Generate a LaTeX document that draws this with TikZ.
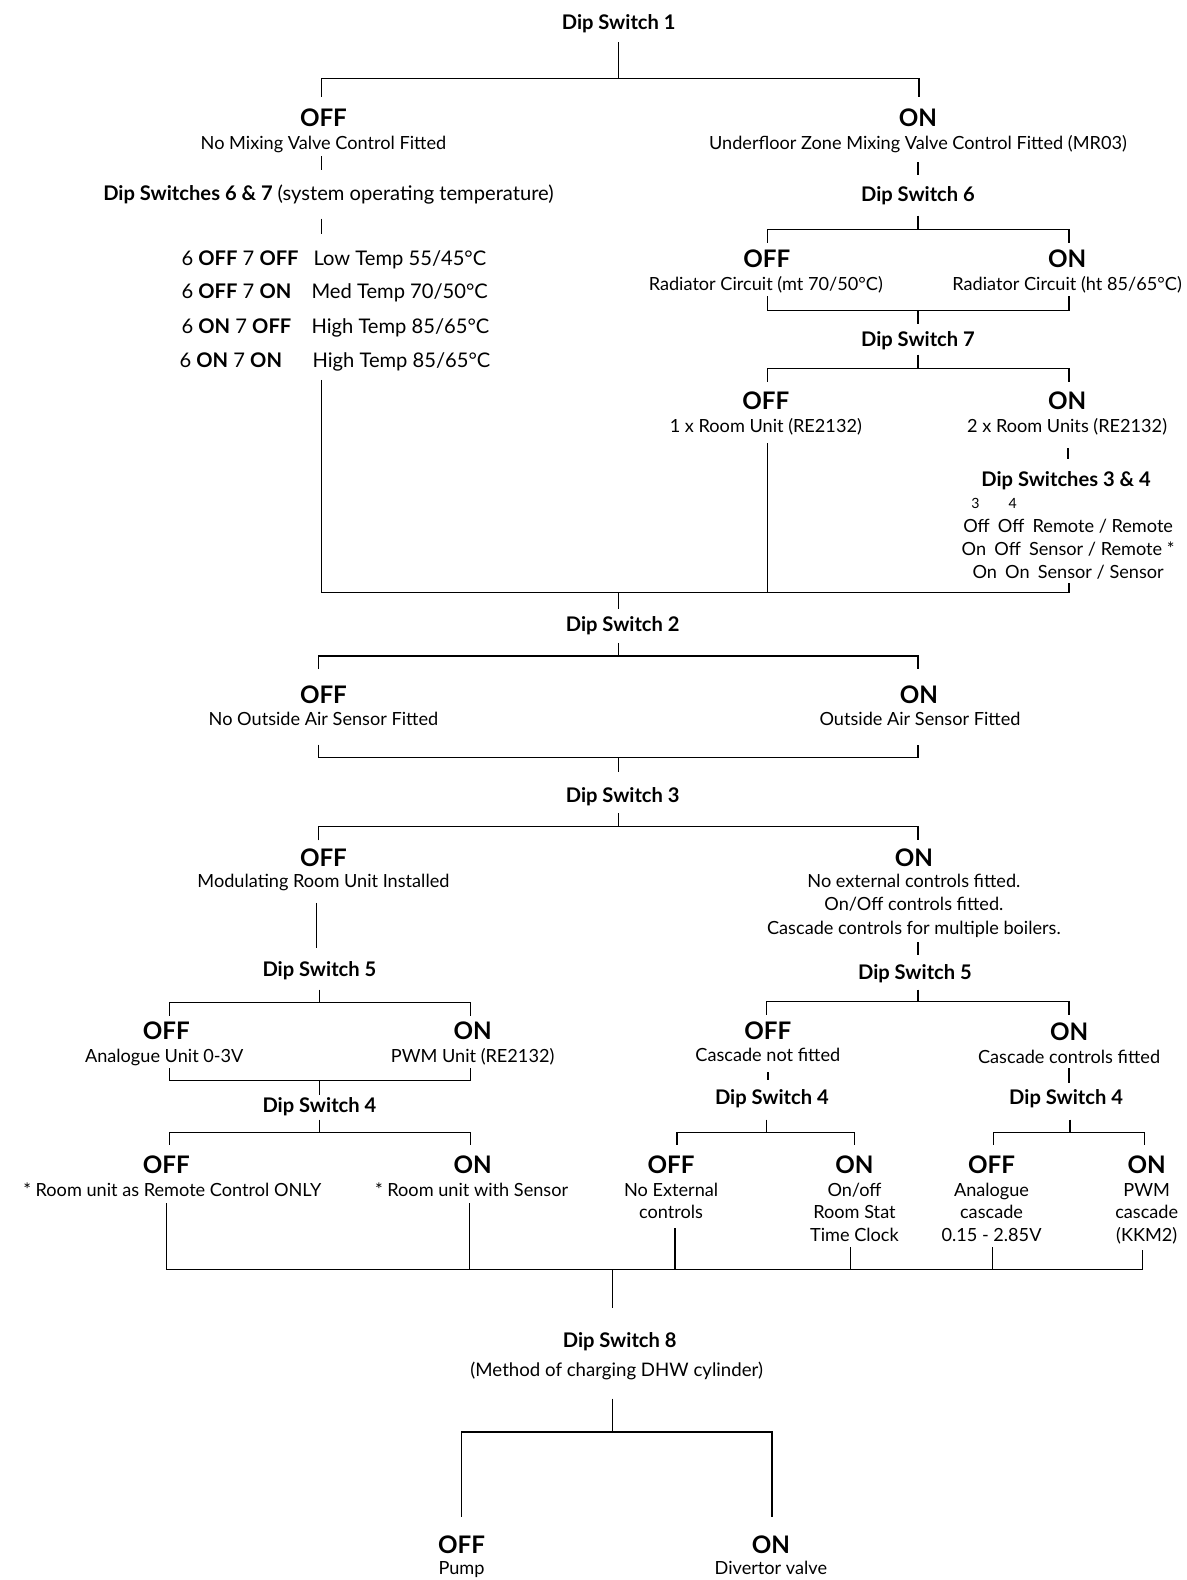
\documentclass[tikz,border=0pt]{standalone}
\usepackage{fontspec}
\setmainfont{Lato}
\newcommand\sgap{\hspace{0.45em}}
\begin{document}
\begin{tikzpicture}[x=1pt,y=-1pt,
  ln/.style={line width=1.3pt},
  tk/.style={line width=2.6pt},
  txt/.style={font=\fontsize{18}{22.5}\selectfont, inner sep=0pt, anchor=base, align=center},
  hd/.style={font=\fontsize{20}{24}\selectfont\bfseries, inner sep=0pt, anchor=base},
  oo/.style={font=\fontsize{24}{28}\selectfont\bfseries, inner sep=0pt, anchor=base},
  tbl/.style={font=\fontsize{20}{24}\selectfont, inner sep=0pt, anchor=base west},
  sm/.style={font=\fontsize{14}{16}\selectfont, inner sep=0pt, anchor=base},
]
\useasboundingbox[fill=white] (0,0) rectangle (1177,1568);

% ---------- Dip switch 1 ----------
\node[hd] (ds1) at (614,29) {Dip Switch 1};
\node[oo] (s1off) at (321,125.5) {OFF};
\node[txt] (s1offt) at (321,148) {No Mixing Valve Control Fitted};
\node[hd] (ds67) at (326,199) {Dip Switches 6 \& 7 {\mdseries (system operating temperature)}};
\node[tbl] (t1a) at (180,263) {6 \textbf{OFF} 7 \textbf{OFF}};
\node[tbl] (t1b) at (311,263) {Low Temp 55/45°C};
\node[tbl] (t2a) at (180,296) {6 \textbf{OFF} 7 \textbf{ON}};
\node[tbl] (t2b) at (309,296) {Med Temp 70/50°C};
\node[tbl] (t3a) at (180,331) {6 \textbf{ON} 7 \textbf{OFF}};
\node[tbl] (t3b) at (309,331) {High Temp 85/65°C};
\node[tbl] (t4a) at (178,365) {6 \textbf{ON} 7 \textbf{ON}};
\node[tbl] (t4b) at (310,365) {High Temp 85/65°C};

\node[oo] (s1on) at (911,125.5) {ON};
\node[txt] (s1ont) at (911,148) {Underfloor Zone Mixing Valve Control Fitted (MR03)};
\node[hd] (ds6) at (911,200) {Dip Switch 6};
\node[oo] (s6off) at (761,265.5) {OFF};
\node[txt] (s6offt) at (760,288) {Radiator Circuit (mt 70/50°C)};
\node[oo] (s6on) at (1059,265.5) {ON};
\node[txt] (s6ont) at (1059,288) {Radiator Circuit (ht 85/65°C)};
\node[hd] (ds7) at (911,344) {Dip Switch 7};
\node[oo] (s7off) at (760,406.5) {OFF};
\node[txt] (s7offt) at (760,429) {1 x Room Unit (RE2132)};
\node[oo] (s7on) at (1059,406.5) {ON};
\node[txt] (s7ont) at (1059,429) {2 x Room Units (RE2132)};
\node[hd] (ds34) at (1058,483) {Dip Switches 3 \& 4};
\node[sm] (n3) at (968,505) {3};
\node[sm] (n4) at (1005,505) {4};
\node[txt, font=\fontsize{18}{23}\selectfont] (ds34t) at (1060,574)
  {Off\sgap Off\sgap Remote / Remote\\On\sgap Off\sgap Sensor / Remote *\\On\sgap On\sgap Sensor / Sensor};

% ---------- Dip switch 2 ----------
\node[hd] (ds2) at (618,627) {Dip Switch 2};
\node[oo] (s2off) at (321,698.5) {OFF};
\node[txt] (s2offt) at (321,720) {No Outside Air Sensor Fitted};
\node[oo] (s2on) at (912,698.5) {ON};
\node[txt] (s2ont) at (913,720) {Outside Air Sensor Fitted};

% ---------- Dip switch 3 ----------
\node[hd] (ds3) at (618,796) {Dip Switch 3};
\node[oo] (s3off) at (321,859.5) {OFF};
\node[txt] (s3offt) at (321,881) {Modulating Room Unit Installed};
\node[oo] (s3on) at (907,859.5) {ON};
\node[txt, font=\fontsize{18}{23}\selectfont] (s3ont) at (907,927)
  {No external controls fitted.\\On/Off controls fitted.\\Cascade controls for multiple boilers.};

% left: dip switch 5 / 4
\node[hd] (l5) at (317,969) {Dip Switch 5};
\node[oo] (l5off) at (165,1031.5) {OFF};
\node[txt] (l5offt) at (163,1054) {Analogue Unit 0-3V};
\node[oo] (l5on) at (469,1031.5) {ON};
\node[txt] (l5ont) at (469,1054) {PWM Unit (RE2132)};
\node[hd] (l4) at (317,1104) {Dip Switch 4};
\node[oo] (l4off) at (165,1164.5) {OFF};
\node[txt] (l4offt) at (171,1187) {* Room unit as Remote Control ONLY};
\node[oo] (l4on) at (469,1164.5) {ON};
\node[txt] (l4ont) at (468,1187) {* Room unit with Sensor};

% right: dip switch 5 / 4
\node[hd] (r5) at (908,972) {Dip Switch 5};
\node[oo] (r5off) at (762,1031.5) {OFF};
\node[txt] (r5offt) at (762,1053) {Cascade not fitted};
\node[oo] (r5on) at (1061,1032.5) {ON};
\node[txt] (r5ont) at (1061,1055) {Cascade controls fitted};
\node[hd] (ra4) at (766,1096) {Dip Switch 4};
\node[hd] (rb4) at (1058,1096) {Dip Switch 4};
\node[oo] (a4off) at (666,1164.5) {OFF};
\node[txt] (a4offt) at (666,1209.5) {No External\\controls};
\node[oo] (a4on) at (848,1164.5) {ON};
\node[txt] (a4ont) at (848,1232) {On/off\\Room Stat\\Time Clock};
\node[oo] (b4off) at (984,1164.5) {OFF};
\node[txt] (b4offt) at (984,1232) {Analogue\\cascade\\0.15 - 2.85V};
\node[oo] (b4on) at (1138,1164.5) {ON};
\node[txt] (b4ont) at (1138,1232) {PWM\\cascade\\(KKM2)};

% ---------- Dip switch 8 ----------
\node[hd] (ds8) at (615,1337) {Dip Switch 8};
\node[txt, font=\fontsize{18.5}{22}\selectfont] (ds8t) at (612,1366) {(Method of charging DHW cylinder)};
\node[oo] (s8off) at (458,1541.5) {OFF};
\node[txt] (s8offt) at (458,1563) {Pump};
\node[oo] (s8on) at (765,1541.5) {ON};
\node[txt] (s8ont) at (765,1563) {Divertor valve};

% ---------- connectors ----------
\draw[ln] (614,42) -- (614,78);
\draw[ln] (319,96) -- (319,78) -- (912,78) -- (912,96);
\draw[ln] (319,155) -- (319,169);
\draw[ln] (319,217) -- (319,232);
\draw[ln] (319,377) -- (319,588) -- (1061,588) -- (1061,579);
\draw[ln] (762,440) -- (762,588);
\draw[ln] (614,588) -- (614,604);
\draw[ln] (911,161) -- (911,174);
\draw[ln] (911,214) -- (911,228);
\draw[ln] (762,241) -- (762,228) -- (1061,228) -- (1061,241);
\draw[ln] (762,294) -- (762,308) -- (1061,308) -- (1061,294);
\draw[ln] (911,308) -- (911,322);
\draw[ln] (911,352) -- (911,366);
\draw[ln] (762,379) -- (762,366) -- (1061,366) -- (1061,379);
\draw[tk] (1060,445) -- (1060,456);

\draw[ln] (614,638) -- (614,651);
\draw[ln] (316,664) -- (316,651) -- (911,651) -- (911,664);
\draw[ln] (316,739) -- (316,752) -- (911,752) -- (911,739);
\draw[ln] (614,752) -- (614,766);
\draw[ln] (614,807) -- (614,820);
\draw[ln] (316,834) -- (316,820) -- (911,820) -- (911,834);
\draw[ln] (314,896) -- (314,941);
\draw[ln] (911,935) -- (911,948);

\draw[ln] (317,982) -- (317,995);
\draw[ln] (168,1008) -- (168,995) -- (467,995) -- (467,1008);
\draw[ln] (168,1060) -- (168,1072) -- (467,1072) -- (467,1060);
\draw[ln] (317,1072) -- (317,1087);
\draw[ln] (317,1111) -- (317,1124);
\draw[ln] (168,1136) -- (168,1124) -- (467,1124) -- (467,1136);

\draw[ln] (911,982) -- (911,994);
\draw[ln] (761,1007) -- (761,994) -- (1061,994) -- (1061,1007);
\draw[tk] (762,1064) -- (762,1072);
\draw[ln] (1061,1060) -- (1061,1075);
\draw[ln] (761,1111) -- (761,1124);
\draw[ln] (672,1136) -- (672,1124) -- (848,1124) -- (848,1136);
\draw[ln] (1062,1111) -- (1062,1124);
\draw[ln] (986,1136) -- (986,1124) -- (1136,1124) -- (1136,1136);

\draw[ln] (165,1194) -- (165,1260) -- (1134,1260) -- (1134,1240);
\draw[ln] (466,1194) -- (466,1260);
\draw[ln] (670,1219) -- (670,1260);
\draw[ln] (844,1238) -- (844,1260);
\draw[ln] (985,1238) -- (985,1260);
\draw[ln] (608,1260) -- (608,1298);

\draw[ln] (608,1388) -- (608,1421);
\draw[ln] (458,1505) -- (458,1421) -- (766,1421) -- (766,1505);
\end{tikzpicture}
\end{document}
